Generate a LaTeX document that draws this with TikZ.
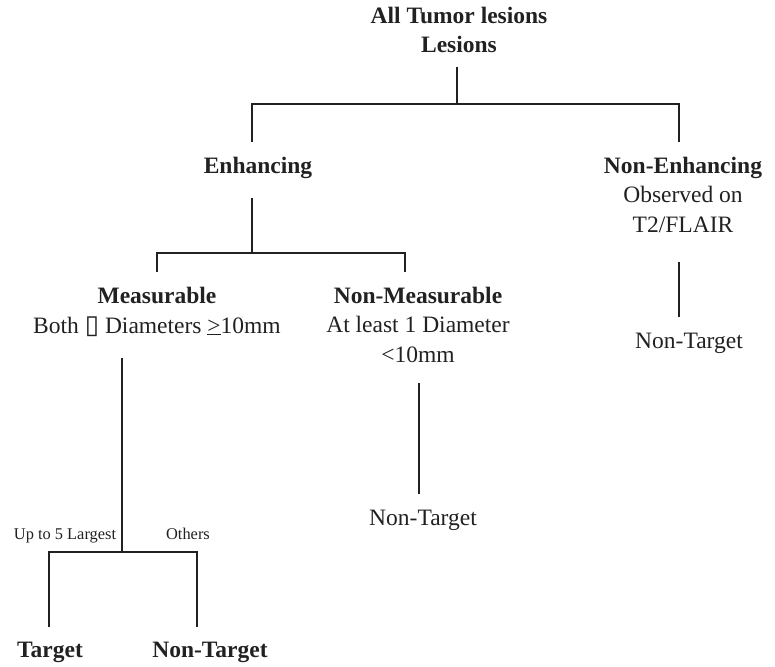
\documentclass[tikz,border=0pt]{standalone}
\usepackage{fontspec}
\setmainfont{Liberation Serif}
\newfontfamily\symfont{DejaVu Sans}
\usetikzlibrary{positioning}

\begin{document}
\begin{tikzpicture}[x=1pt,y=-1pt]
  \tikzset{
    head/.style={font=\fontsize{23.5}{29.5}\selectfont\bfseries, text=black!87, align=center, anchor=base, inner sep=0pt},
    body/.style={font=\fontsize{23.5}{29.5}\selectfont, text=black!87, align=center, anchor=base, inner sep=0pt},
    tag/.style={font=\fontsize{16.4}{19}\selectfont, text=black!87, anchor=base, inner sep=0pt},
    branch/.style={black!87, line width=2pt}
  }
  \useasboundingbox (0,0) rectangle (775,666);

  % Labels (multi-line ones sit on their last baseline)
  \node[head] (all) at (459,53) {All Tumor lesions\\Lesions};
  \node[head] (enh) at (258,173) {Enhancing};
  \node[body] (nenh) at (683,232) {{\bfseries Non-Enhancing}\\Observed on\\T2/FLAIR};
  \node[body] (nenhT) at (689,348) {Non-Target};
  \node[body] (meas) at (157,333) {{\bfseries Measurable}\\Both {\symfont\fontsize{26}{26}\selectfont ▯} Diameters \underline{>}10mm};
  \node[body] (nmeas) at (418,362) {{\bfseries Non-Measurable}\\At least 1 Diameter\\<10mm};
  \node[body] (nmeasT) at (423,525) {Non-Target};
  \node[tag] (largest) at (65,539) {Up to 5 Largest};
  \node[tag] (others) at (188,539) {Others};
  \node[head] (target) at (50,657) {Target};
  \node[head] (ntarget) at (210,657) {Non-Target};

  % Top split
  \coordinate (t0) at (457,67);
  \coordinate (t1) at (457,104);
  \coordinate (e0) at (252,104);
  \coordinate (e1) at (252,142);
  \coordinate (n0) at (679,104);
  \coordinate (n1) at (679,142);
  \draw[branch] (t0) -- (t1);
  \draw[branch] (e1) -- (e0) -- (n0) -- (n1);

  % Enhancing split
  \coordinate (s0) at (252,198);
  \coordinate (s1) at (252,253);
  \coordinate (m0) at (157,253);
  \coordinate (m1) at (157,272);
  \coordinate (u0) at (405,253);
  \coordinate (u1) at (405,272);
  \draw[branch] (s0) -- (s1);
  \draw[branch] (m1) -- (m0) -- (u0) -- (u1);

  % Single branches
  \coordinate (ne0) at (679,262);
  \coordinate (ne1) at (679,317);
  \draw[branch] (ne0) -- (ne1);
  \coordinate (nm0) at (419,383);
  \coordinate (nm1) at (419,494);
  \draw[branch] (nm0) -- (nm1);

  % Measurable split
  \coordinate (me0) at (122,358);
  \coordinate (me1) at (122,552);
  \coordinate (ta0) at (49,552);
  \coordinate (ta1) at (49,627);
  \coordinate (nt0) at (197,552);
  \coordinate (nt1) at (197,627);
  \draw[branch] (me0) -- (me1);
  \draw[branch] (ta1) -- (ta0) -- (nt0) -- (nt1);
\end{tikzpicture}
\end{document}
